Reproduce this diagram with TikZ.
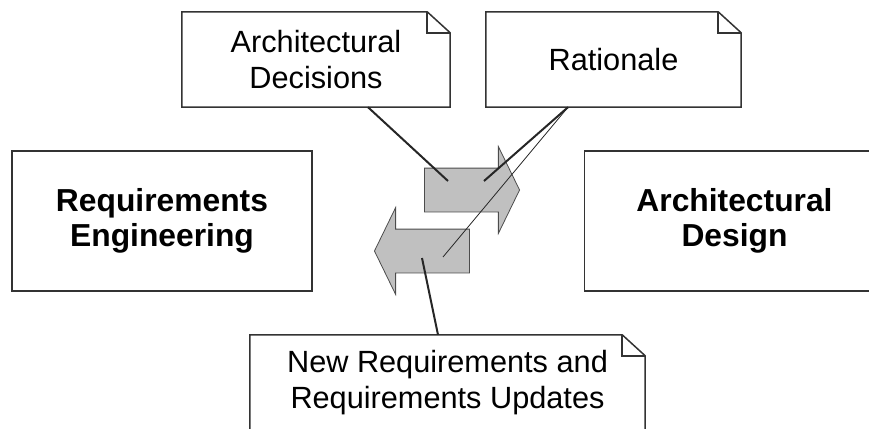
\documentclass[tikz,border=0pt]{standalone}
\usepackage{fontspec}
\setmainfont{Liberation Sans}
\usepackage{tikz}
\usetikzlibrary{shapes,arrows,positioning}

\definecolor{arrowgray}{HTML}{C0C0C0}
\definecolor{linegray}{HTML}{333333}

\begin{document}
\begin{tikzpicture}[x=1pt,y=-1pt,
	phasebox/.style={rectangle, draw=linegray, line width=1.5pt, minimum width=300pt, minimum height=140pt, align=center, font=\fontsize{31.8}{35.5}\selectfont\bfseries},
	notebox/.style={rectangle, minimum height=95pt, inner sep=0pt, align=center, font=\fontsize{30.7}{35.5}\selectfont},
	noteline/.style={draw=linegray, line width=1.5pt, line join=miter},
	flow/.style={single arrow, draw=black!70, line width=0.8pt, fill=arrowgray, minimum height=95pt, inner xsep=0pt, inner ysep=21.5pt, single arrow head extend=21.5pt, single arrow tip angle=128},
	link/.style={draw=black!85, line width=2pt},
	thinlink/.style={draw=black!85, line width=0.8pt}]
	\useasboundingbox (0,0) rectangle (869,428);

	% the two phases
	\node [phasebox] (reqeng) at (162,221) {Requirements\\Engineering};
	\node [phasebox, right=271pt of reqeng] (archdes) {Architectural\\Design};

	% exchange between them
	\node [flow, anchor=tip] (forward) at (520,190) {};
	\node [flow, shape border rotate=180, anchor=tip] (backward) at (374,251) {};

	% notes
	\node [notebox, minimum width=268pt] (decisions) at (316,59.5) {Architectural\\Decisions};
	\node [notebox, minimum width=255pt] (rationale) at (613.5,59.5) {Rationale};
	\node [notebox, minimum width=395pt] (updates) at (447.5,382.5) {New Requirements and\\Requirements Updates};
	\foreach \n in {decisions,rationale,updates}{
		\draw [noteline] (\n.south west) -- (\n.north west) -- ([xshift=-23pt]\n.north east) -- ([yshift=-21pt]\n.north east) -- (\n.south east) -- cycle;
		\draw [noteline] ([xshift=-23pt]\n.north east) |- ([yshift=-21pt]\n.north east);
	}

	% note links
	\coordinate (decend) at (448,181);
	\coordinate (ratend) at (484,181);
	\coordinate (ratend2) at (443,257);
	\coordinate (updend) at (422,258);
	\draw [link] ([xshift=52pt]decisions.south) -- (decend);
	\draw [link] ([xshift=-45.5pt]rationale.south) -- (ratend);
	\draw [thinlink] ([xshift=-45.5pt]rationale.south) -- (ratend2);
	\draw [link] ([xshift=-9.5pt]updates.north) -- (updend);
\end{tikzpicture}
\end{document}
